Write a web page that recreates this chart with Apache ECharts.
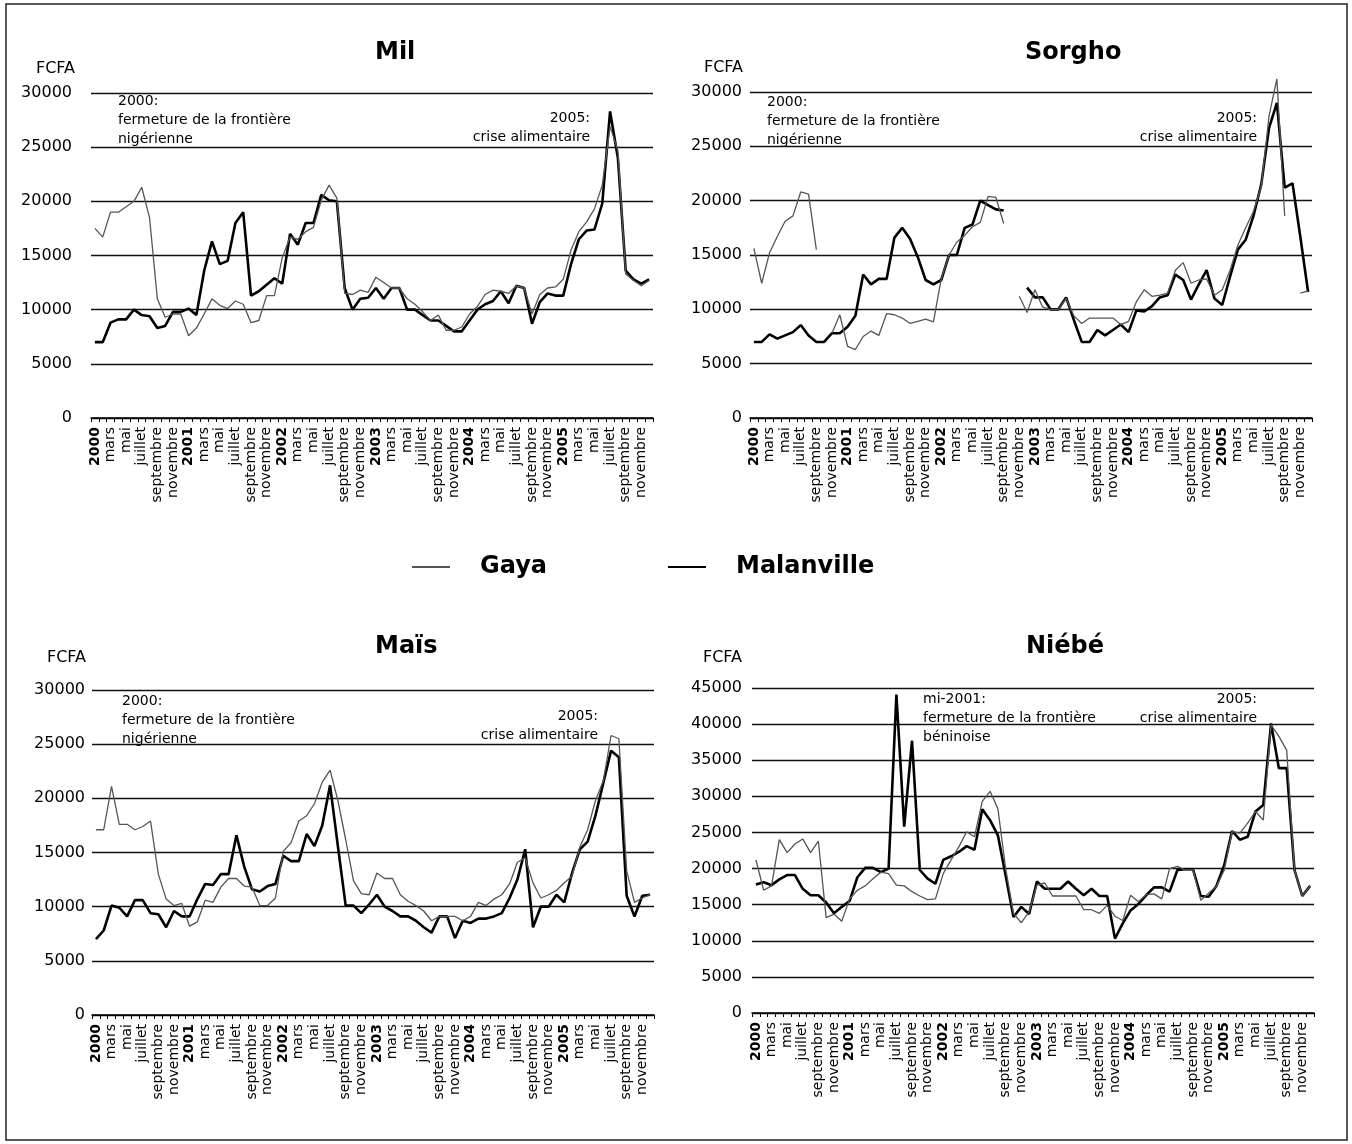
<!DOCTYPE html>
<html><head><meta charset="utf-8">
<script src="https://cdn.jsdelivr.net/npm/echarts@6/dist/echarts.min.js"></script>
<style>html,body{margin:0;padding:0;background:#fff}#c{width:1352px;height:1144px}</style>
</head><body><div id="c"></div>
<script>
// ---- tick labels / categories ----
const years = ['2000', '2001', '2002', '2003', '2004', '2005'];
const monthLabels = ['janvier', 'février', 'mars', 'avril', 'mai', 'juin', 'juillet', 'août', 'septembre', 'octobre', 'novembre', 'décembre'];
const categories = [];
years.forEach(y => monthLabels.forEach((m, k) => categories.push(y + '-' + (k + 1))));

// ---- series values (FCFA) ----
const milGaya = [17500,16700,19000,19000,19500,20000,21300,18500,11000,9300,9600,9600,
  7600,8300,9600,11000,10400,10100,10800,10500,8800,9000,11300,11300,
  14800,16700,16500,17200,17600,20100,21500,20300,11500,11400,11800,11600,
  13000,12500,12000,12000,11000,10500,9800,9000,9500,8100,8100,8400,
  9600,10300,11400,11800,11700,11500,12200,12000,9600,11400,12000,12100,
  12800,15500,17200,18100,19300,21500,26900,24700,13300,12700,12200,12700];
const milMalanville = [7000,7000,8800,9100,9100,10000,9500,9400,8300,8500,9800,9800,
  10100,9500,13600,16300,14200,14500,18000,19000,11300,11700,12300,12900,
  12400,17000,16000,18000,18000,20600,20100,20000,12000,10000,11000,11100,
  12000,11000,12000,12000,10000,10000,9500,9000,9000,8500,8000,8000,
  9000,10000,10500,10800,11700,10600,12200,12000,8700,10700,11500,11300,
  11300,14200,16500,17300,17400,19800,28300,24000,13600,12800,12400,12800];
const sorghoGaya = [15600,12400,15200,16700,18100,18600,20800,20600,15500,null,7800,9500,
  6600,6300,7500,8000,7600,9600,9500,9200,8700,8900,9100,8850,
  12800,15000,16200,16800,17600,18000,20400,20300,17900,null,11200,9700,
  11800,10200,10000,10000,11000,9400,8700,9200,9200,9200,9200,8600,
  8900,10700,11800,11200,11300,11500,13600,14300,12400,12700,12800,11300,
  11800,13600,15900,17500,19000,21300,27800,31200,18600,null,11500,11700];
const sorghoMalanville = [7000,7000,7700,7300,7600,7900,8550,7600,7000,7000,7800,7800,
  8400,9400,13200,12300,12800,12800,16600,17500,16500,14800,12700,12300,
  12700,15000,15000,17500,17800,20000,19600,19200,19100,null,null,12000,
  11100,11100,10000,10000,11100,9000,7000,7000,8100,7600,8100,8600,
  7900,9900,9800,10300,11100,11300,13200,12700,10900,12300,13600,11000,
  10400,13000,15500,16400,18600,21500,26700,29000,21200,21600,16700,11600];
const maisGaya = [17100,17100,21100,17600,17600,17100,17400,17900,13000,10700,10100,10300,
  8200,8600,10600,10400,11800,12600,12600,11900,11800,10100,10100,10800,
  15100,15900,17900,18400,19500,21500,22600,19800,16200,12400,11200,11100,
  13100,12600,12600,11100,10500,10100,9600,8700,9100,9100,9100,8700,
  9100,10400,10100,10700,11100,12100,14100,14500,12200,10800,11100,11500,
  12200,12800,15500,17100,19800,21600,25800,25500,13300,10400,10800,11100];
const maisMalanville = [7000,7800,10100,9900,9100,10600,10600,9400,9300,8100,9600,9100,
  9100,10700,12100,12000,13000,13000,16600,13700,11600,11400,11900,12100,
  14700,14200,14200,16700,15600,17500,21200,15600,10100,10100,9400,10200,
  11100,10000,9600,9100,9100,8700,8100,7600,9100,9100,7100,8700,
  8500,8900,8900,9100,9400,10800,12500,15300,8100,10000,10000,11100,
  10400,13100,15300,16000,18400,21400,24400,23800,11000,9100,11000,11100];
const niebeGaya = [21200,17000,17600,24000,22200,23400,24100,22200,23800,13200,13700,12700,
  15800,17000,17600,18600,19500,19300,17700,17600,16800,16200,15700,15800,
  19300,21200,23000,25100,24400,29300,30700,28300,20000,13800,12500,14000,
  17700,18000,16200,16200,16200,16200,14300,14300,13800,14900,13400,12800,
  16300,15400,16400,16500,15800,20000,20300,19800,19800,15600,16600,17500,
  19800,25100,24900,26300,27900,26700,39900,38300,36400,19800,16200,17600];
const niebeMalanville = [17800,18100,17700,18500,19100,19100,17200,16300,16300,15300,13800,14700,
  15500,18800,20100,20100,19500,20000,44100,25800,37700,19800,18600,17900,
  21200,21700,22300,23100,22600,28200,26700,24600,19000,13300,14700,13700,
  18200,17200,17200,17200,18200,17200,16300,17200,16200,16200,10300,12400,
  14200,15100,16300,17400,17400,16800,19800,19900,19900,16200,16100,17600,
  20500,25200,24000,24400,27900,28800,40100,33900,33900,19800,16200,17600];

const yTicksMax = [30000, 30000, 30000, 45000];
const panelTitles = ['Mil', 'Sorgho', 'Maïs', 'Niébé'];
const seriesNames = ['Gaya', 'Malanville'];

// ---- layout (pixels) ----
const FONT = 'DejaVu Sans';
const grids = [
  {left: 91, top: 93, width: 562, height: 325},
  {left: 750, top: 92, width: 562, height: 326},
  {left: 92, top: 690, width: 562, height: 325},
  {left: 752, top: 688, width: 562, height: 325}
];
const yLabelMargin = [19, 8, 7, 10];
const namePad = [16, 7, 6, 10];
const nameGaps = [16, 16, 24, 22];
const titlePos = [{left: 370, top: 36}, {left: 1020, top: 36}, {left: 370, top: 630}, {left: 1021, top: 630}];
const panelData = [[milGaya, milMalanville], [sorghoGaya, sorghoMalanville], [maisGaya, maisMalanville], [niebeGaya, niebeMalanville]];

const xAxes = grids.map((g, i) => ({
  type: 'category', gridIndex: i, data: categories, boundaryGap: true,
  axisLine: {show: true, lineStyle: {color: '#000', width: 1.5}},
  axisTick: {show: true, interval: 0, length: 4, lineStyle: {color: '#000', width: 1}},
  axisLabel: {
    interval: 1, rotate: 90, margin: 9, fontFamily: FONT, fontSize: 14, color: '#000',
    formatter: (v, idx) => {
      const k = idx % 12;
      return k === 0 ? '{y|' + years[Math.floor(idx / 12)] + '}' : monthLabels[k];
    },
    rich: {y: {fontFamily: FONT, fontSize: 14, fontWeight: 'bold', color: '#000'}}
  },
  splitLine: {show: false}
}));
const yAxes = grids.map((g, i) => ({
  type: 'value', gridIndex: i, min: 0, max: yTicksMax[i], interval: 5000,
  name: 'FCFA', nameLocation: 'end', nameGap: nameGaps[i],
  nameTextStyle: {fontFamily: FONT, fontSize: 16, color: '#000', align: 'right', padding: [0, namePad[i], 0, 0]},
  axisLine: {show: false}, axisTick: {show: false},
  axisLabel: {fontFamily: FONT, fontSize: 16, color: '#000', margin: yLabelMargin[i], formatter: v => String(v)},
  splitLine: {show: true, lineStyle: {color: '#111', width: 1.4}}
}));
const series = [];
panelData.forEach((pair, i) => {
  series.push({name: 'Gaya', type: 'line', xAxisIndex: i, yAxisIndex: i, data: pair[0],
    symbol: 'none', showSymbol: false, connectNulls: false, clip: false,
    lineStyle: {color: '#555', width: 1.3}, itemStyle: {color: '#555'}, z: 3});
  series.push({name: 'Malanville', type: 'line', xAxisIndex: i, yAxisIndex: i, data: pair[1],
    symbol: 'none', showSymbol: false, connectNulls: false, clip: false,
    lineStyle: {color: '#000', width: 2.6}, itemStyle: {color: '#000'}, z: 2});
});

const annoFont = '14px "DejaVu Sans"';
function note(text, x, y, align) {
  return {type: 'text', x: x, y: y, silent: true,
    style: {text: text, font: annoFont, fill: '#000', align: align || 'left', lineHeight: 19}};
}
const option = {
  backgroundColor: '#fff',
  animation: false,
  title: panelTitles.map((t, i) => ({text: t, left: titlePos[i].left, top: titlePos[i].top,
    textStyle: {fontFamily: FONT, fontSize: 24, fontWeight: 'bold', color: '#000'}})),
  legend: {
    data: seriesNames, left: 406, top: 550, itemWidth: 38, itemHeight: 14, itemGap: 120,
    itemStyle: {color: 'transparent', borderColor: 'transparent', borderWidth: 0, opacity: 0},
    textStyle: {fontFamily: FONT, fontSize: 24, fontWeight: 'bold', color: '#000', padding: [0, 0, 0, 25]}
  },
  grid: grids.map(g => Object.assign({containLabel: false}, g)),
  xAxis: xAxes,
  yAxis: yAxes,
  series: series,
  graphic: [
    {type: 'rect', shape: {x: 6, y: 4, width: 1341, height: 1136}, silent: true,
      style: {fill: 'none', stroke: '#222', lineWidth: 1.5}, z: -1},
    note('2000:\nfermeture de la frontière\nnigérienne', 118, 92),
    note('2005:\ncrise alimentaire', 590, 109, 'right'),
    note('2000:\nfermeture de la frontière\nnigérienne', 767, 93),
    note('2005:\ncrise alimentaire', 1257, 109, 'right'),
    note('2000:\nfermeture de la frontière\nnigérienne', 122, 692),
    note('2005:\ncrise alimentaire', 598, 707, 'right'),
    note('mi-2001:\nfermeture de la frontière\nbéninoise', 923, 690),
    note('2005:\ncrise alimentaire', 1257, 690, 'right')
  ]
};
const chart = echarts.init(document.getElementById('c'), null, {renderer: 'canvas'});
chart.setOption(option);
</script>
</body></html>
